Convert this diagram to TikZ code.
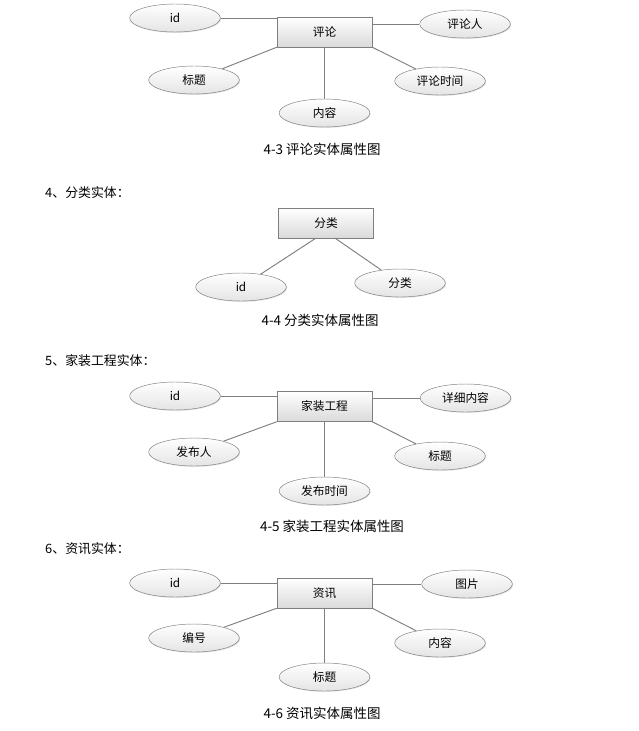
\documentclass[tikz,border=0pt]{standalone}
\usepackage{fontspec}
\setmainfont{Noto Sans CJK SC}
\usepackage{tikz}
\usetikzlibrary{positioning,shadows,shapes.geometric}
\definecolor{linegray}{HTML}{7F7F7F}
\definecolor{boxbottom}{HTML}{DADADA}
\definecolor{ellbottom}{HTML}{E4E4E4}

\begin{document}
\begin{tikzpicture}[
  x=0.03cm, y=-0.03cm,
  font=\fontsize{10}{12}\selectfont,
  ent/.style={draw=linegray,top color=white,bottom color=boxbottom,minimum width=2.85cm,minimum height=0.9cm,inner sep=0pt,
    drop shadow={shadow xshift=0.7pt,shadow yshift=-0.7pt,opacity=0.25}},
  attr/.style={ellipse,draw=linegray,top color=white,bottom color=ellbottom,minimum width=2.72cm,minimum height=0.84cm,inner sep=0pt,
    drop shadow={shadow xshift=0.7pt,shadow yshift=-0.7pt,opacity=0.25}},
  link/.style={draw=linegray,line width=0.8pt},
  head/.style={anchor=west,inner sep=0pt,font=\fontsize{11}{13}\selectfont},
  figcap/.style={inner sep=0pt,font=\fontsize{11.5}{14}\selectfont}
]
\useasboundingbox (0,0) rectangle (638,731);

% 4-3
\node[ent] (cmt) at (324.5,32) {评论};
\node[attr] (cmtid) at (175,18) {id};
\node[attr] (cmtuser) at (465,24) {评论人};
\node[attr] (cmttitle) at (194,80) {标题};
\node[attr] (cmtbody) at (324.5,113) {内容};
\node[attr] (cmttime) at (440,81) {评论时间};
\node[figcap] (cap43) at (322,149) {4-3 评论实体属性图};
\draw[link] (cmtid) -- (cmtid -| cmt.west);
\draw[link] (cmt.east |- cmtuser) -- (cmtuser);
\draw[link] (cmt.south west) -- (cmttitle);
\draw[link] (cmt.south) -- (cmtbody);
\draw[link] (cmt.south east) -- (cmttime);

% 4-4
\node[head] (head4) at (45,193) {4、分类实体：};
\node[ent] (cat) at (326,223) {分类};
\node[attr] (catid) at (241,287) {id};
\node[attr] (catname) at (400,283) {分类};
\node[figcap] (cap44) at (320,320) {4-4 分类实体属性图};
\draw[link] (cat.236) -- (catid);
\draw[link] (cat.301) -- (catname);

% 4-5
\node[head] (head5) at (45,361) {5、家装工程实体：};
\node[ent] (proj) at (324.5,406.5) {家装工程};
\node[attr] (projid) at (175,396) {id};
\node[attr] (projdetail) at (465.5,398) {详细内容};
\node[attr] (projauthor) at (194,452) {发布人};
\node[attr] (projtime) at (324.5,491) {发布时间};
\node[attr] (projtitle) at (440,456) {标题};
\node[figcap] (cap45) at (332,526) {4-5 家装工程实体属性图};
\draw[link] (projid) -- (projid -| proj.west);
\draw[link] (proj.east |- projdetail) -- (projdetail);
\draw[link] (proj.south west) -- (projauthor);
\draw[link] (proj.south) -- (projtime);
\draw[link] (proj.south east) -- (projtitle);

% 4-6
\node[head] (head6) at (45,549) {6、资讯实体：};
\node[ent] (news) at (324.5,593) {资讯};
\node[attr] (newsid) at (175,583) {id};
\node[attr] (newspic) at (467,584) {图片};
\node[attr] (newsno) at (194,638) {编号};
\node[attr] (newstitle) at (324.5,677) {标题};
\node[attr] (newsbody) at (440,643) {内容};
\node[figcap] (cap46) at (322,713) {4-6 资讯实体属性图};
\draw[link] (newsid) -- (newsid -| news.west);
\draw[link] (news.east |- newspic) -- (newspic);
\draw[link] (news.south west) -- (newsno);
\draw[link] (news.south) -- (newstitle);
\draw[link] (news.south east) -- (newsbody);
\end{tikzpicture}
\end{document}
